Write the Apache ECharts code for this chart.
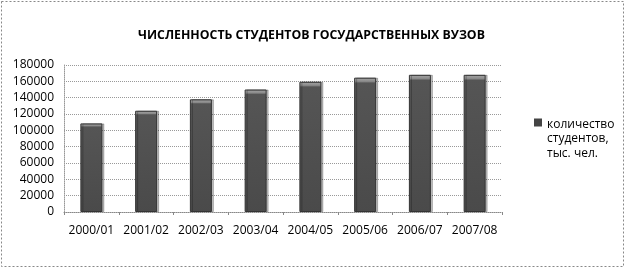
<!DOCTYPE html>
<html><head><meta charset="utf-8">
<script src="https://cdn.jsdelivr.net/npm/echarts@6/dist/echarts.min.js"></script>
<style>html,body{margin:0;padding:0;background:#fff}#c{width:628px;height:269px}</style>
</head><body><div id="c"></div>
<script>
const categories = ['2000/01','2001/02','2002/03','2003/04','2004/05','2005/06','2006/07','2007/08'];
const students = [108500, 124000, 138000, 150000, 159500, 164500, 168000, 168000];
const seriesName = 'количество\nстудентов,\nтыс. чел.';
const titleText = 'ЧИСЛЕННОСТЬ СТУДЕНТОВ ГОСУДАРСТВЕННЫХ ВУЗОВ';
const yMin = 0, yMax = 180000, yStep = 20000;

const font = '"Open Sans", sans-serif';
const chart = echarts.init(document.getElementById('c'), null, {renderer:'canvas'});
chart.setOption({
  animation: false,
  backgroundColor: '#fff',
  textStyle: {fontFamily: font},
  graphic: [{
    type: 'rect', shape: {x: 1.5, y: 1.5, width: 622, height: 265},
    style: {fill: 'none', stroke: '#888', lineWidth: 1, lineDash: [2, 2]}, silent: true, z: -1
  }],
  title: {
    text: titleText, left: 133, top: 24,
    textStyle: {fontFamily: font, fontSize: 12.3, fontWeight: 'bold', color: '#000'}
  },
  legend: {
    left: 529, top: 112, orient: 'vertical',
    itemWidth: 8, itemHeight: 44,
    icon: 'path://M0,0h0.01v0.01h-0.01z M0,1.5h8v8h-8z M0,44h0.01v0.01h-0.01z',
    textStyle: {fontFamily: font, fontSize: 12, color: '#000', lineHeight: 14.5},
    data: [{name: seriesName, itemStyle: {color: '#444', borderWidth: 0}}]
  },
  grid: {left: 64, right: 126, top: 65, bottom: 57, containLabel: false},
  xAxis: {
    type: 'category', data: categories,
    axisLine: {lineStyle: {color: '#888', type: [1, 1]}},
    axisTick: {show: true, length: 3, lineStyle: {color: '#888'}},
    axisLabel: {fontFamily: font, fontSize: 12, color: '#000', margin: 13, interval: 0}
  },
  yAxis: {
    type: 'value', min: yMin, max: yMax, interval: yStep,
    axisLine: {show: true, lineStyle: {color: '#999', type: [1, 1]}},
    axisTick: {show: false},
    splitLine: {lineStyle: {color: '#999', type: [1, 1]}},
    axisLabel: {fontFamily: font, fontSize: 12, color: '#000', margin: 10,
      formatter: v => String(v)}
  },
  series: [{
    name: seriesName, type: 'bar', data: students, barWidth: 22,
    itemStyle: {
      color: {type: 'linear', x: 0, y: 0, x2: 0, y2: 1, colorStops: [
        {offset: 0, color: '#a8a8a8'}, {offset: 0.028, color: '#8a8a8a'},
        {offset: 0.04, color: '#555'}, {offset: 1, color: '#4a4a4a'}]},
      borderColor: '#333', borderWidth: 1,
      shadowColor: 'rgba(0,0,0,0.25)', shadowOffsetX: 2, shadowBlur: 0
    }
  }]
});
</script></body></html>
